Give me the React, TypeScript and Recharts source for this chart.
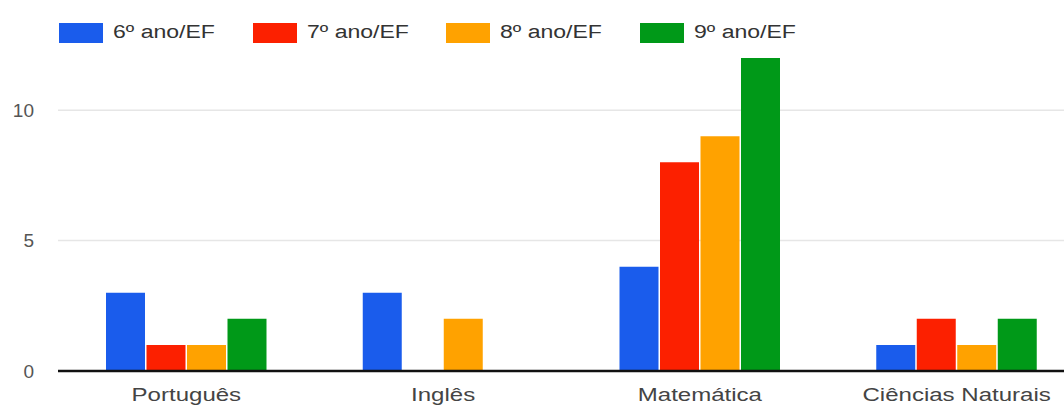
import React from "react";
import {
  BarChart,
  Bar,
  XAxis,
  YAxis,
  CartesianGrid,
  Legend,
} from "recharts";

const categories = ["Português", "Inglês", "Matemática", "Ciências Naturais"];
const seriesNames = ["6º ano/EF", "7º ano/EF", "8º ano/EF", "9º ano/EF"];
const seriesColors = ["#1a5cec", "#fc2000", "#ffa200", "#009918"];
const ano6 = [3, 3, 4, 1];
const ano7 = [1, 0, 8, 2];
const ano8 = [1, 2, 9, 1];
const ano9 = [2, 0, 12, 2];
const yTicks = [0, 5, 10];

const seriesValues = [ano6, ano7, ano8, ano9];
const data = categories.map((name, i) => {
  const row: Record<string, string | number> = { name };
  seriesNames.forEach((s, j) => {
    row[s] = seriesValues[j][i];
  });
  return row;
});

const FONT = "'Liberation Sans', Arial, sans-serif";
const STRETCH = 1.3;

function XTick({ x, y, payload }: any) {
  return (
    <text
      x={x}
      y={y + 22}
      textAnchor="middle"
      fill="#444"
      fontSize={18.5}
      fontFamily={FONT}
      transform={`translate(${x},0) scale(${STRETCH},1) translate(${-x},0)`}
    >
      {payload.value}
    </text>
  );
}

function LegendBox() {
  return (
    <div style={{ display: "flex", fontFamily: FONT, fontSize: 18, color: "#333" }}>
      {seriesNames.map((s, i) => (
        <div key={s} style={{ width: 193.7, display: "flex", alignItems: "center" }}>
          <span
            style={{
              display: "inline-block",
              width: 44,
              height: 20,
              background: seriesColors[i],
              marginRight: 10,
            }}
          />
          <span
            style={{
              display: "inline-block",
              transform: `scaleX(${STRETCH - 0.02})`,
              transformOrigin: "left center",
              whiteSpace: "nowrap",
            }}
          >
            {s}
          </span>
        </div>
      ))}
    </div>
  );
}

export default function App() {
  return (
    <div
      style={{
        position: "fixed",
        left: 0,
        top: 0,
        width: 1064,
        height: 408,
        overflow: "hidden",
        background: "#fff",
      }}
    >
      <BarChart
        width={1100}
        height={408}
        data={data}
        margin={{ top: 58, right: 15, bottom: 7, left: 8 }}
        barSize={39}
        barGap={1.5}
      >
        <CartesianGrid
          vertical={false}
          horizontalValues={yTicks}
          stroke="#e6e6e6"
          strokeWidth={1.5}
        />
        <XAxis
          dataKey="name"
          axisLine={{ stroke: "#111", strokeWidth: 2.5 }}
          tickLine={false}
          tick={<XTick />}
          interval={0}
          height={30}
        />
        <YAxis
          width={50}
          domain={[0, 12]}
          ticks={yTicks}
          axisLine={false}
          tickLine={false}
          tickMargin={18}
          tick={{ fill: "#555", fontSize: 19, fontFamily: FONT }}
        />
        <Legend
          layout="horizontal"
          verticalAlign="middle"
          align="center"
          wrapperStyle={{ position: "absolute", top: 22, left: 59, width: 800, height: 20 }}
          content={() => <LegendBox />}
        />
        {seriesNames.map((s, i) => (
          <Bar key={s} dataKey={s} fill={seriesColors[i]} isAnimationActive={false} />
        ))}
      </BarChart>
    </div>
  );
}
